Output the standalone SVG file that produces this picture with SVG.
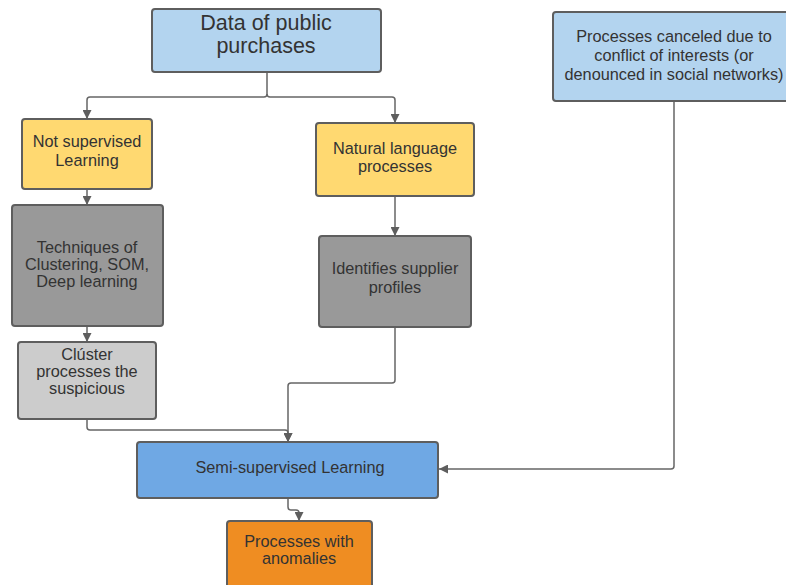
<svg xmlns="http://www.w3.org/2000/svg" width="786" height="585" viewBox="0 0 786 585">
<style>
.box{stroke:#5e5e5e;stroke-width:2}
.t{font-family:"Liberation Sans",Arial,sans-serif;font-size:16.3px;fill:#333;text-anchor:middle}
.big{font-size:21.5px}
.c{fill:none;stroke:#666;stroke-width:1.5}
</style>
<defs>
<marker id="ah" viewBox="0 0 10 10" refX="10" refY="5" markerWidth="9" markerHeight="9" markerUnits="userSpaceOnUse" orient="auto">
<path d="M0,0 L10,5 L0,10 z" fill="#5e5e5e"/>
</marker>
</defs>
<rect width="786" height="585" fill="#fff"/>
<g id="connectors">
<path class="c" d="M267,72 V94 Q267,97 264,97 H90 Q87,97 87,100 V119" marker-end="url(#ah)"/>
<path class="c" d="M267,94 Q267,97 270,97 H392 Q395,97 395,100 V123" marker-end="url(#ah)"/>
<path class="c" d="M87,189 V205" marker-end="url(#ah)"/>
<path class="c" d="M87,326 V342" marker-end="url(#ah)"/>
<path class="c" d="M395,196 V236" marker-end="url(#ah)"/>
<path class="c" d="M395,327 V380 Q395,383 392,383 H291 Q288,383 288,386 V442" marker-end="url(#ah)"/>
<path class="c" d="M87,419 V427 Q87,430 90,430 H285 Q288,430 288,433 V442" marker-end="url(#ah)"/>
<path class="c" d="M674,101 V466 Q674,469 671,469 H439" marker-end="url(#ah)"/>
<path class="c" d="M288,498 V507 Q288,510 291,510 H296 Q299,510 299,513 V521" marker-end="url(#ah)"/>
</g>
<g id="n1">
<rect class="box" x="152" y="9" width="229" height="63" rx="3" fill="#b3d4ef"/>
<text class="t big" x="266" y="30">Data of public</text>
<text class="t big" x="266" y="53">purchases</text>
</g>
<g id="n2">
<rect class="box" x="553" y="12" width="245" height="89" rx="3" fill="#b3d4ef"/>
<text class="t" x="674" y="42">Processes canceled due to</text>
<text class="t" x="674" y="61">conflict of interests (or</text>
<text class="t" x="674" y="80">denounced in social networks)</text>
</g>
<g id="n3">
<rect class="box" x="22" y="119" width="130" height="70" rx="3" fill="#ffd971"/>
<text class="t" x="87" y="147">Not supervised</text>
<text class="t" x="87" y="166">Learning</text>
</g>
<g id="n4">
<rect class="box" x="316" y="123" width="158" height="73" rx="3" fill="#ffd971"/>
<text class="t" x="395" y="154">Natural language</text>
<text class="t" x="395" y="172">processes</text>
</g>
<g id="n5">
<rect class="box" x="12" y="205" width="151" height="121" rx="3" fill="#999999"/>
<text class="t" x="87" y="253">Techniques of</text>
<text class="t" x="87" y="270">Clustering, SOM,</text>
<text class="t" x="87" y="287">Deep learning</text>
</g>
<g id="n6">
<rect class="box" x="319" y="236" width="152" height="91" rx="3" fill="#999999"/>
<text class="t" x="395" y="274">Identifies supplier</text>
<text class="t" x="395" y="293">profiles</text>
</g>
<g id="n7">
<rect class="box" x="18" y="342" width="138" height="77" rx="3" fill="#cccccc"/>
<text class="t" x="87" y="360">Clúster</text>
<text class="t" x="87" y="377">processes the</text>
<text class="t" x="87" y="394">suspicious</text>
</g>
<g id="n8">
<rect class="box" x="137" y="442" width="301" height="56" rx="3" fill="#6fa8e4"/>
<text class="t" x="290" y="473">Semi-supervised Learning</text>
</g>
<g id="n9">
<rect class="box" x="227" y="521" width="145" height="75" rx="3" fill="#ef8d22"/>
<text class="t" x="299" y="547">Processes with</text>
<text class="t" x="299" y="564">anomalies</text>
</g>
</svg>
